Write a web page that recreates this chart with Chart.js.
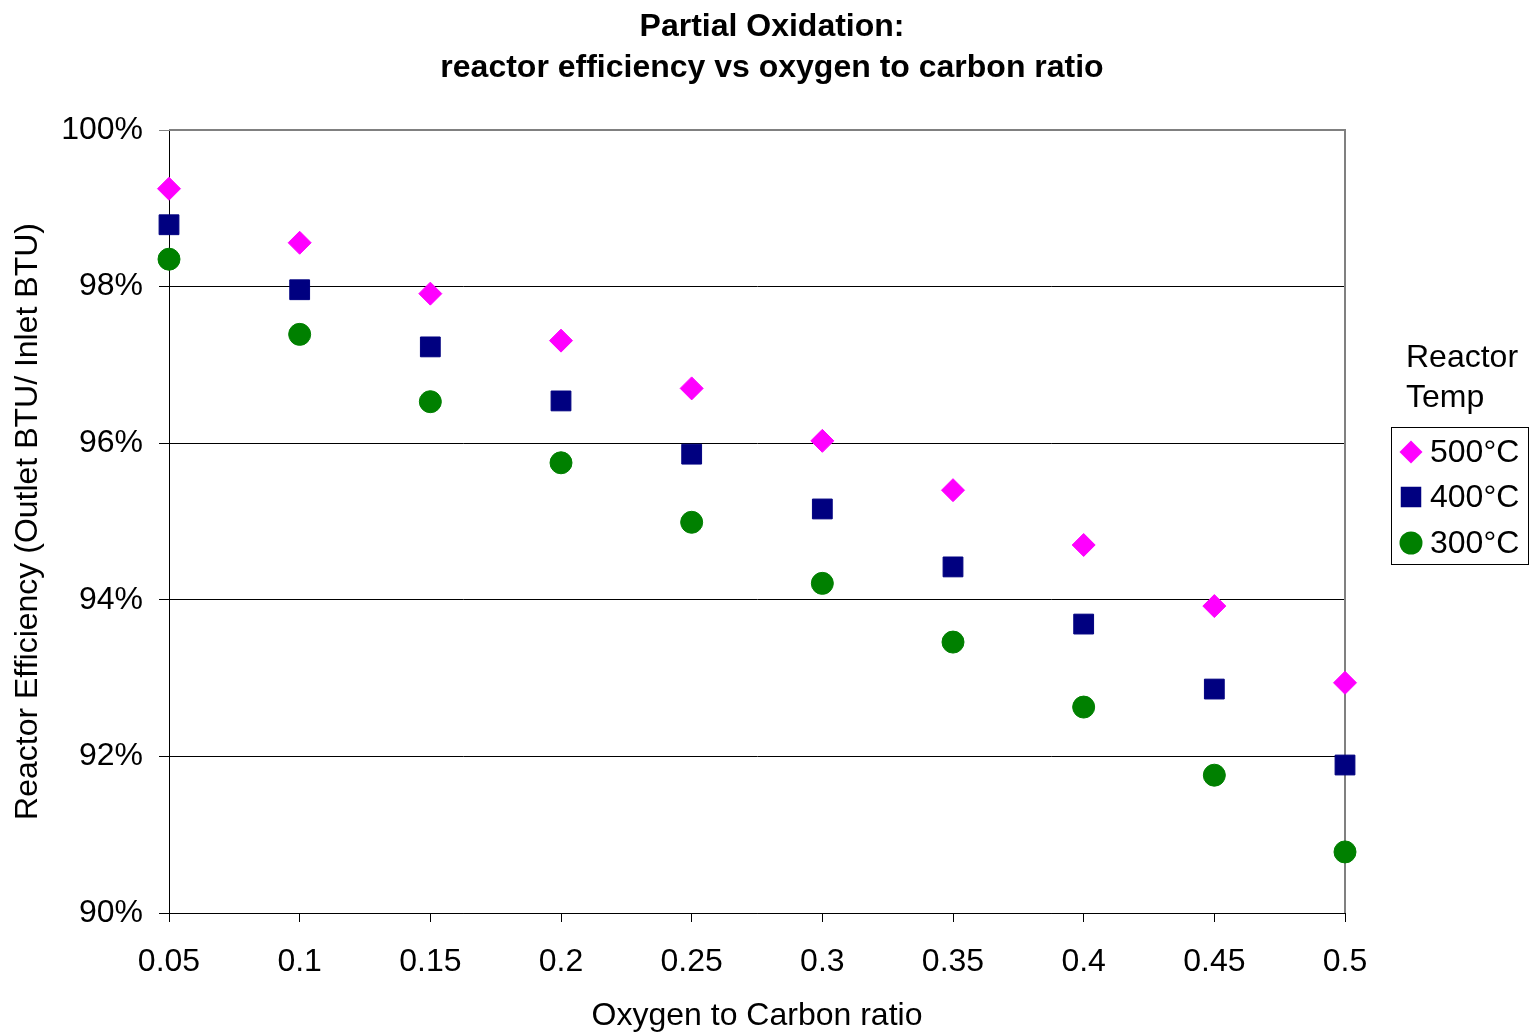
<!DOCTYPE html>
<html>
<head>
<meta charset="utf-8">
<title>Partial Oxidation</title>
<script src="https://cdn.jsdelivr.net/npm/chart.js"></script>
<style>
  html, body { margin: 0; padding: 0; background: #fff; }
  #wrap { width: 1531px; height: 1035px; position: relative; }
</style>
</head>
<body>
<div id="wrap"><canvas id="chart"></canvas></div>
<script>
// O/C ratio on the x axis
const ratios = [0.05, 0.1, 0.15, 0.2, 0.25, 0.3, 0.35, 0.4, 0.45, 0.5];

// efficiency in %
const eff500 = [99.25, 98.56, 97.91, 97.31, 96.70, 96.03, 95.40, 94.70, 93.92, 92.94];
const eff400 = [98.79, 97.96, 97.23, 96.54, 95.86, 95.16, 94.42, 93.69, 92.86, 91.89];
const eff300 = [98.35, 97.39, 96.53, 95.75, 94.99, 94.21, 93.46, 92.63, 91.76, 90.78];

const seriesLabels = ['500°C', '400°C', '300°C'];
const xTicks = [0.05, 0.1, 0.15, 0.2, 0.25, 0.3, 0.35, 0.4, 0.45, 0.5];
const yTicks = [90, 92, 94, 96, 98, 100];
const titleLines = ['Partial Oxidation:', 'reactor efficiency vs oxygen to carbon ratio'];

const FONT = '"Liberation Sans", Arial, sans-serif';
const toPoints = vals => vals.map((v, i) => ({ x: ratios[i], y: v }));

// marker drawing for the legend
function drawMarker(ctx, style, x, y, r, color) {
    ctx.save();
    ctx.fillStyle = color;
    ctx.beginPath();
    if (style === 'rectRot') {
        ctx.moveTo(x - r, y); ctx.lineTo(x, y - r);
        ctx.lineTo(x + r, y); ctx.lineTo(x, y + r);
        ctx.closePath();
    } else if (style === 'rect') {
        const s = r * Math.SQRT1_2;
        ctx.rect(x - s, y - s, 2 * s, 2 * s);
    } else {
        ctx.arc(x, y, r, 0, Math.PI * 2);
    }
    ctx.fill();
    ctx.restore();
}

// gray frame on top/right, drawn under the points
const framePlugin = {
    id: 'frame',
    beforeDatasetsDraw(chart) {
        const { ctx, chartArea: a } = chart;
        ctx.save();
        ctx.strokeStyle = '#808080';
        ctx.lineWidth = 2;
        ctx.beginPath();
        ctx.moveTo(a.left, a.top);
        ctx.lineTo(a.right, a.top);
        ctx.lineTo(a.right, a.bottom);
        ctx.stroke();
        ctx.restore();
    }
};

// two-line title centred on the page, legend with its title outside the box
const textPlugin = {
    id: 'texts',
    afterDraw(chart) {
        const ctx = chart.ctx;
        ctx.save();
        ctx.fillStyle = '#000';
        ctx.textBaseline = 'middle';
        ctx.textAlign = 'center';
        ctx.font = 'bold 32px ' + FONT;
        ctx.fillText(titleLines[0], 772, 27);
        ctx.fillText(titleLines[1], 772, 68);

        ctx.textAlign = 'left';
        ctx.font = '32px ' + FONT;
        ctx.fillText('Reactor', 1406, 358);
        ctx.fillText('Temp', 1406, 398);
        ctx.strokeStyle = '#000';
        ctx.lineWidth = 1;
        ctx.strokeRect(1391.5, 427.5, 137, 137);
        const rows = [452, 497, 543];
        chart.data.datasets.forEach((ds, i) => {
            const r = ds.pointStyle === 'rect' ? 14.5 : 11.5;
            drawMarker(ctx, ds.pointStyle, 1411, rows[i], r, ds.backgroundColor);
            ctx.fillStyle = '#000';
            ctx.fillText(ds.label, 1430, rows[i] + 1);
        });
        ctx.restore();
    }
};

new Chart(document.getElementById('chart'), {
    type: 'scatter',
    data: {
        datasets: [
            {
                label: seriesLabels[0], data: toPoints(eff500),
                pointStyle: 'rectRot', pointRadius: 11.5, pointHoverRadius: 11.5,
                backgroundColor: '#FF00FF', borderColor: '#FF00FF', borderWidth: 1, clip: false
            },
            {
                label: seriesLabels[1], data: toPoints(eff400),
                pointStyle: 'rect', pointRadius: 14, pointHoverRadius: 14,
                backgroundColor: '#000080', borderColor: '#000080', borderWidth: 1, clip: false
            },
            {
                label: seriesLabels[2], data: toPoints(eff300),
                pointStyle: 'circle', pointRadius: 11, pointHoverRadius: 11,
                backgroundColor: '#008000', borderColor: '#008000', borderWidth: 1, clip: false
            }
        ]
    },
    options: {
        responsive: true,
        maintainAspectRatio: false,
        animation: false,
        layout: { padding: { left: 0, right: 186, top: 130, bottom: 0 } },
        plugins: {
            legend: { display: false },
            tooltip: { enabled: false },
            title: { display: false }
        },
        scales: {
            x: {
                type: 'linear',
                min: 0.05, max: 0.5,
                afterBuildTicks: axis => { axis.ticks = xTicks.map(v => ({ value: v })); },
                afterFit: s => { s.height = 122; },
                ticks: {
                    color: '#000',
                    font: { family: FONT, size: 32 },
                    padding: 21,
                    maxRotation: 0,
                    callback: v => String(+v.toFixed(2))
                },
                grid: { drawOnChartArea: false, drawTicks: true, tickLength: 9, color: '#000' },
                border: { color: '#000', width: 1 },
                title: {
                    display: true, text: 'Oxygen to Carbon ratio', color: '#000',
                    font: { family: FONT, size: 32 },
                    padding: { top: 0, bottom: 0 }
                }
            },
            y: {
                min: 90, max: 100,
                afterBuildTicks: axis => { axis.ticks = yTicks.map(v => ({ value: v })); },
                afterFit: s => { s.width = 169; },
                ticks: {
                    color: '#000',
                    font: { family: FONT, size: 32 },
                    padding: 16,
                    callback: v => v + '%'
                },
                grid: {
                    color: c => (c.tick && c.tick.value === 100) ? '#808080' : '#000',
                    lineWidth: 1,
                    tickLength: 10
                },
                border: { color: '#000', width: 1 },
                title: {
                    display: true, text: 'Reactor Efficiency (Outlet BTU/ Inlet BTU)', color: '#000',
                    font: { family: FONT, size: 32 },
                    padding: { top: 9, bottom: 0 }
                }
            }
        }
    },
    plugins: [framePlugin, textPlugin]
});
</script>
</body>
</html>
